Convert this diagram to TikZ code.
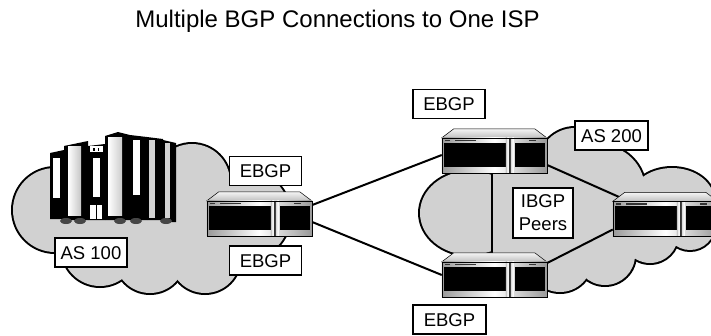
\documentclass[tikz,border=0pt]{standalone}
\usepackage{fontspec}
\setmainfont{Liberation Sans}
\definecolor{cloudgray}{gray}{0.82}
\tikzset{
  tag/.style={draw, line width=1.5pt, fill=white, inner sep=0pt,
    font=\fontsize{18.5}{22}\selectfont, minimum height=29pt, minimum width=72pt,
    text height=13pt, text depth=0pt},
  link/.style={line width=2pt, black},
  routerspot/.style={inner sep=0pt, minimum width=105pt, minimum height=44pt},
  router/.pic={
    % lid
    \shade[top color=gray!8, bottom color=gray!50] (12,0) -- (93,0) -- (105,9) -- (0,9) -- cycle;
    \draw[line width=0.5pt] (12,0) -- (93,0) -- (105,9) -- (0,9) -- cycle;
    % front plate
    \shade[left color=gray!80, right color=gray!80, middle color=white] (0,9) rectangle (105,44);
    % display windows
    \fill[black] (2,14) rectangle (64,38);
    \fill[black] (73,14) rectangle (103,38);
    % divider bars
    \shade[left color=gray!50, right color=gray!30, middle color=white] (64,9) rectangle (67.5,44);
    \fill[gray!40!black] (67.5,9) rectangle (69,44);
    \shade[left color=gray!30, right color=gray!50, middle color=white] (69,9) rectangle (73,44);
    % indicator slots
    \fill[black!80] (3,11) rectangle (8,12.5);
    \fill[black!80] (13,11) rectangle (34,12.5);
    \fill[black!80] (87,11) rectangle (94,12.5);
    \draw[line width=0.5pt] (0,9) rectangle (105,44);
  }
}
% cloud made of overlapping ellipses: dark rim first, grey body on top
\newcommand\drawcloud[1]{%
  \foreach \cx/\cy/\rx/\ry in {#1}{\fill[black] (\cx,\cy) ellipse[x radius={\rx+2}, y radius={\ry+2}];}%
  \foreach \cx/\cy/\rx/\ry in {#1}{\fill[cloudgray] (\cx,\cy) ellipse[x radius=\rx, y radius=\ry];}%
}
\begin{document}
\begin{tikzpicture}[x=1pt,y=-1pt]
\useasboundingbox (0,0) rectangle (711,335);
\clip (0,0) rectangle (711,335);

% title
\node[font=\fontsize{24}{28}\selectfont, anchor=base, inner sep=0pt] (title) at (337.5,27)
  {Multiple BGP Connections to One ISP};

% AS 100 cloud
\drawcloud{55/210/42/42, 110/210/55/55, 100/248/38/38, 150/258/35/35, 205/258/35/35,
  160/215/60/60, 192/182/38/38, 245/215/45/45}

% AS 200 cloud
\drawcloud{470/213/50/42, 530/213/55/55, 575/165/37/37, 600/190/45/45, 672/200/42/32,
  600/213/50/50, 560/260/32/32, 605/255/30/30, 650/235/28/28, 690/225/25/25}

% server farm
\fill[black] (50,153) -- (64,150) -- (64,219) -- (50,219) -- cycle;
\fill[black] (64,146) -- (88,141) -- (88,220) -- (64,220) -- cycle;
\fill[black] (88,146) -- (105,144) -- (105,220) -- (88,220) -- cycle;
\fill[black] (105,136) -- (118,132) -- (130,135) -- (130,220) -- (105,220) -- cycle;
\fill[black] (130,135) -- (147,137) -- (147,220) -- (130,220) -- cycle;
\fill[black] (147,137) -- (163,139) -- (163,220) -- (147,220) -- cycle;
\fill[black] (163,140) -- (176,143) -- (176,222) -- (163,222) -- cycle;
\fill[white] (53,158) rectangle (60,198);
\shade[left color=white, right color=gray!45] (68,146) rectangle (81,215);
\fill[white] (93,158) rectangle (100,197);
\fill[white] (90,146) rectangle (103,152);
\fill[black] (93,147.5) rectangle (95,150.5);
\fill[black] (98,147.5) rectangle (99,150.5);
\fill[white] (90,205) rectangle (102,219);
\draw[black, line width=0.8pt] (96,205) -- (96,219);
\shade[left color=white, right color=gray!40] (108,137) rectangle (122,215);
\fill[white] (133,140) rectangle (140,195);
\fill[gray!35] (149,140) rectangle (155,218);
\fill[gray!35] (165,143) rectangle (170,218);
\foreach \ex in {66,80,120,136,166}{\fill[gray!55!black] (\ex,221) ellipse[x radius=6, y radius=3];}

% router positions
\node[routerspot] (r1) at (259.5,214) {};
\node[routerspot] (r2) at (494.5,151) {};
\node[routerspot] (r3) at (494.5,275) {};
\node[routerspot] (r4) at (665.5,214.5) {};

% peering links
\draw[link] ([yshift=9pt]r1.east) -- ([yshift=-4pt]r2.west);
\draw[link] ([yshift=-8pt]r1.east) -- (r3.west);
\draw[link] ([xshift=-3pt]r2.south) -- ([xshift=-3pt]r3.north);
\draw[link] ([yshift=-14pt]r2.east) -- ([xshift=7pt,yshift=-5pt]r4.north west);
\draw[link] ([yshift=12pt]r3.east) -- ([yshift=-15pt]r4.west);

% routers
\pic at (r1.north west) {router};
\pic at (r2.north west) {router};
\pic at (r3.north west) {router};
\pic at (r4.north west) {router};

% labels
\node[tag] (e1) at (265.5,171) {EBGP};
\node[tag] (e2) at (265.5,260.5) {EBGP};
\node[tag] (as1) at (91,252.5) {AS 100};
\node[tag] (e3) at (449,104) {EBGP};
\node[tag, minimum width=73pt] (as2) at (611.5,135.5) {AS 200};
\node[tag, minimum width=60pt, minimum height=50pt, text height=, align=center,
  font=\fontsize{18.5}{23}\selectfont] (ib) at (543,213) {IBGP\\Peers};
\node[tag, minimum width=73pt] (e4) at (449.5,319.5) {EBGP};
\end{tikzpicture}
\end{document}
